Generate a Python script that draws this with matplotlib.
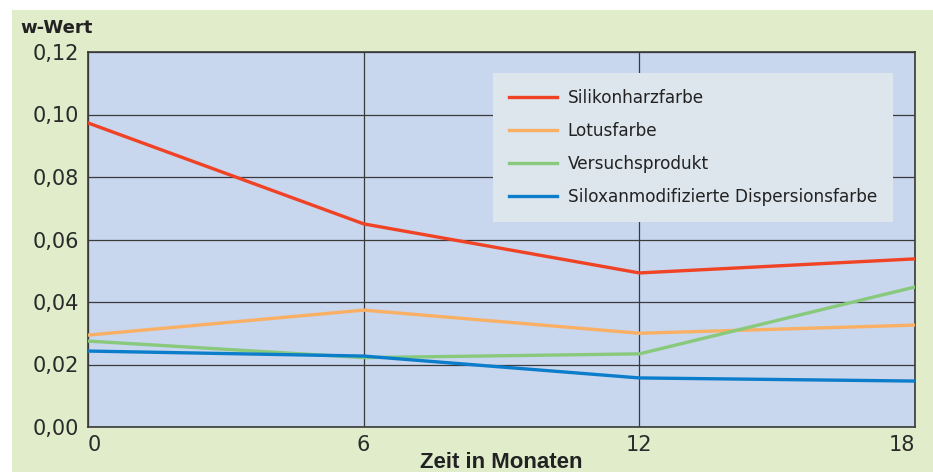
import matplotlib
matplotlib.use("Agg")
import matplotlib.pyplot as plt
from matplotlib.patches import Rectangle
from matplotlib.ticker import FuncFormatter

# months
months = [0, 6, 12, 18]

# w-Wert per product
silikonharz = [0.0973, 0.0650, 0.0493, 0.0538]
lotus = [0.0294, 0.0374, 0.0300, 0.0326]
versuch = [0.0275, 0.0222, 0.0234, 0.0448]
siloxan = [0.0243, 0.0227, 0.0157, 0.0147]

labels = ["Silikonharzfarbe", "Lotusfarbe", "Versuchsprodukt",
          "Siloxanmodifizierte Dispersionsfarbe"]
colors = ["#f04224", "#f9b064", "#88c97b", "#0b7dcb"]

yticks = [0.0, 0.02, 0.04, 0.06, 0.08, 0.10, 0.12]

fig = plt.figure(figsize=(9.33, 4.72), dpi=100)
bg = Rectangle((12 / 933, 0), 1, 1 - 10 / 472, transform=fig.transFigure,
               facecolor="#e0ecca", edgecolor="none", zorder=-10)
fig.add_artist(bg)

ax = fig.add_axes([88 / 933, 45 / 472, 827 / 933, 375 / 472])
ax.set_zorder(1)
ax.set_facecolor("#c8d6ee")

for vals, lab, col in zip([silikonharz, lotus, versuch, siloxan], labels, colors):
    ax.plot(months, vals, color=col, lw=2.4, label=lab, zorder=3)

ax.set_xlim(0, 18)
ax.set_ylim(0, 0.12)
ax.set_xticks(months)
ax.set_yticks(yticks)
ax.yaxis.set_major_formatter(FuncFormatter(lambda v, p: f"{v:.2f}".replace(".", ",")))
ax.grid(True, color="#3a3a3a", lw=0.9, zorder=1)
ax.set_axisbelow(True)
ax.tick_params(axis="y", length=0, pad=6.5, colors="#2a2a2a", labelsize=15)
ax.tick_params(axis="x", length=0, pad=6, colors="#2a2a2a", labelsize=15)
xlbls = ax.get_xticklabels()
xlbls[0].set_ha("left")
xlbls[-1].set_ha("right")
for s in ax.spines.values():
    s.set_color("#3a3a3a")
    s.set_linewidth(1.2)

# axis titles
fig.text(501.5 / 933, 3.5 / 472, "Zeit in Monaten", fontsize=16,
         family="Liberation Sans", fontweight="bold",
         ha="center", va="baseline", color="#222222")
fig.text(20 / 933, 1 - 28 / 472, "w-Wert", fontsize=13, fontweight="bold",
         va="center", ha="left", color="#222222")

leg = ax.legend(loc="upper right", bbox_to_anchor=(0.9734, 0.944), fontsize=12.2,
                frameon=True, fancybox=False, handlelength=2.8,
                labelspacing=0.88, borderpad=0.95, handletextpad=0.65,
                borderaxespad=0)
leg.get_frame().set_facecolor("#dce6ec")
leg.get_frame().set_edgecolor("none")
leg.get_frame().set_alpha(1)
for t in leg.get_texts():
    t.set_color("#222222")

fig.savefig("out.png", dpi=100)
